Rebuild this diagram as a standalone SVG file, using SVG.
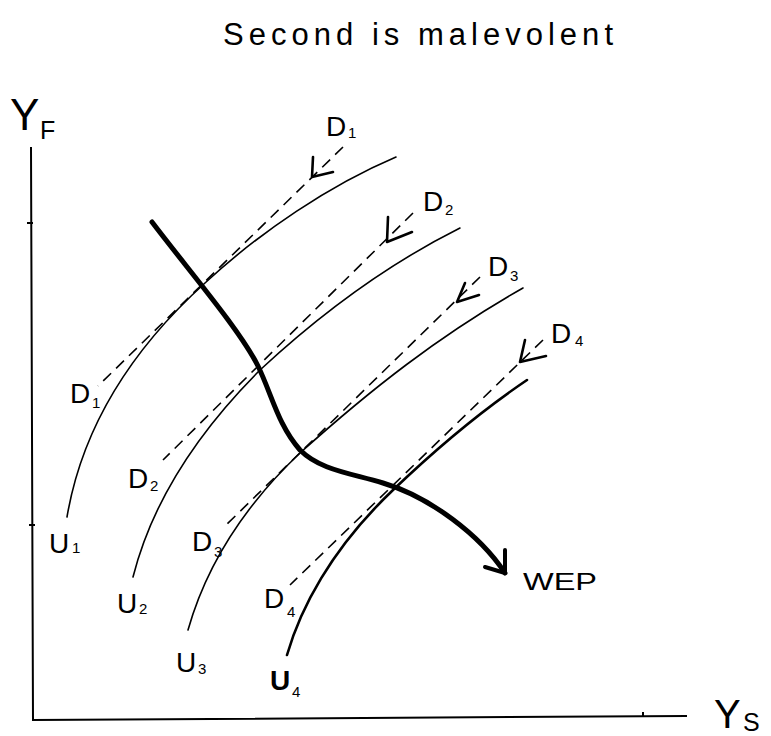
<svg xmlns="http://www.w3.org/2000/svg" width="771" height="736" viewBox="0 0 771 736">
<style>
  text { font-family: "Liberation Sans", "DejaVu Sans", sans-serif; fill: #000; }
  .lbl { font-size: 28px; }
  .sub { font-size: 15px; }
  .u { fill: none; stroke: #000; stroke-width: 1.6; stroke-linecap: round; }
  .u4 { fill: none; stroke: #000; stroke-width: 2.6; stroke-linecap: round; }
  .d { fill: none; stroke: #000; stroke-width: 1.6; stroke-dasharray: 11 7; }
  .ah { fill: none; stroke: #000; stroke-width: 2.6; stroke-linecap: round; stroke-linejoin: round; }
  .axis { fill: none; stroke: #000; stroke-width: 2; }
</style>
<rect width="771" height="736" fill="#fff"/>

<g id="title">
  <text x="223" y="45" font-size="31" textLength="390" lengthAdjust="spacing">Second is malevolent</text>
</g>

<g id="axes">
  <path class="axis" d="M31,147 L33,720 L687,716"/>
  <path class="axis" d="M27,223 L33,223 M29,525 L35,525 M643,712 L643,716"/>
  <text x="10" y="130" font-size="44">Y</text>
  <text x="40" y="139" font-size="25">F</text>
  <text x="714" y="728" font-size="40">Y</text>
  <text x="743" y="731" font-size="25">S</text>
</g>

<g id="U1">
  <path class="u" d="M67,517 C80,440 120,360 205,283 C260,232 330,185 396,157"/>
  <text class="lbl" x="49" y="553">U</text><text class="sub" x="72" y="553">1</text>
</g>
<g id="U2">
  <path class="u" d="M133,577 C150,510 190,440 260,370 C330,305 400,258 460,228"/>
  <text class="lbl" x="117" y="613">U</text><text class="sub" x="139" y="614">2</text>
</g>
<g id="U3">
  <path class="u" d="M188,630 C205,570 240,510 300,453 C370,390 440,335 523,288"/>
  <text class="lbl" x="176" y="672">U</text><text class="sub" x="198" y="674">3</text>
</g>
<g id="U4">
  <path class="u4" d="M287,655 C300,610 330,550 393,490 C440,445 490,405 527,380"/>
  <text class="lbl" x="270" y="690" font-weight="bold">U</text><text class="sub" x="292" y="697" font-size="18">4</text>
</g>

<g id="connectors">
  <g id="D1">
    <path class="d" d="M343,147 L98,386"/>
    <polyline class="ah" points="313,157 312,177 333,172"/>
    <text class="lbl" x="326" y="136">D</text><text class="sub" x="348" y="138">1</text>
    <text class="lbl" x="70" y="403">D</text><text class="sub" x="92" y="408">1</text>
  </g>
  <g id="D2">
    <path class="d" d="M413,213 L163,460"/>
    <polyline class="ah" points="388,217 387,242 412,232"/>
    <text class="lbl" x="423" y="211">D</text><text class="sub" x="445" y="215">2</text>
    <text class="lbl" x="128" y="488">D</text><text class="sub" x="150" y="491">2</text>
  </g>
  <g id="D3">
    <path class="d" d="M480,277 L223,528"/>
    <polyline class="ah" points="465,283 457,302 479,295"/>
    <text class="lbl" x="488" y="276">D</text><text class="sub" x="510" y="281">3</text>
    <text class="lbl" x="192" y="551">D</text><text class="sub" x="214" y="557">3</text>
  </g>
  <g id="D4">
    <path class="d" d="M543,340 L290,585"/>
    <polyline class="ah" points="525,340 520,362 546,356"/>
    <text class="lbl" x="551" y="343">D</text><text class="sub" x="575" y="346" font-size="18">4</text>
    <text class="lbl" x="264" y="608">D</text><text class="sub" x="287" y="617" font-size="18">4</text>
  </g>
  <g id="WEP">
    <path fill="none" stroke="#000" stroke-width="5" stroke-linecap="round" d="M152,222 C190,272 240,330 258,366 C272,395 278,425 300,450 C320,470 350,473 383,483 C430,497 480,535 505,573"/>
    <polyline fill="none" stroke="#000" stroke-width="4" stroke-linecap="round" stroke-linejoin="round" points="505,550 505,573 485,567"/>
    <text x="523" y="590" font-size="24" textLength="74" lengthAdjust="spacingAndGlyphs">WEP</text>
  </g>
</g>
</svg>
